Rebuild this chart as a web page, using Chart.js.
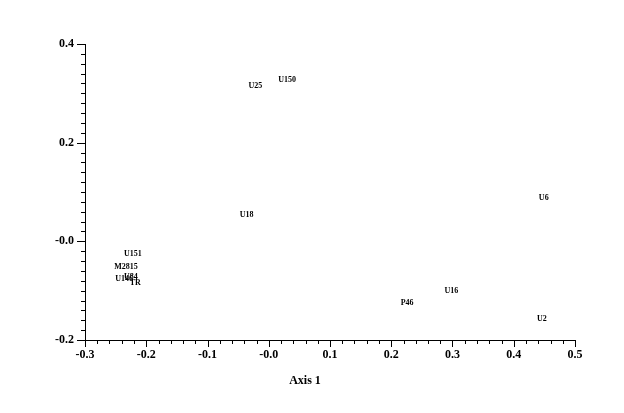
<!DOCTYPE html>
<html>
<head>
<meta charset="utf-8">
<script src="https://cdn.jsdelivr.net/npm/chart.js@4"></script>
<style>
html,body{margin:0;padding:0;background:#fff;}
#wrap{width:624px;height:413px;}
</style>
</head>
<body>
<div id="wrap"><canvas id="c" width="624" height="413"></canvas></div>
<script>
const pointLabels = ['U150','U25','U18','U6','U16','P46','U2','U151','M2815','U146','U84','TR'];
const xValues = [0.030,-0.022,-0.036,0.449,0.298,0.226,0.446,-0.222,-0.233,-0.236,-0.225,-0.218];
const yValues = [0.328,0.314,0.053,0.087,-0.101,-0.124,-0.158,-0.026,-0.051,-0.077,-0.073,-0.085];
const xTickValues = [-0.3,-0.2,-0.1,0.0,0.1,0.2,0.3,0.4,0.5];
const xTickLabels = ['-0.3','-0.2','-0.1','-0.0','0.1','0.2','0.3','0.4','0.5'];
const yTickValues = [-0.2,0.0,0.2,0.4];
const yTickLabels = ['-0.2','-0.0','0.2','0.4'];
const xAxisTitle = 'Axis 1';

const FONT = '"Liberation Serif","Times New Roman",serif';

function labelFor(values, labels, v){
  let best = 0, d = Infinity;
  values.forEach((t,i)=>{ const dd=Math.abs(t-v); if(dd<d){d=dd;best=i;} });
  return d < 1e-6 ? labels[best] : '';
}

const decor = {
  id:'decor',
  afterDraw(chart){
    const ctx = chart.ctx;
    const xs = chart.scales.x, ys = chart.scales.y;
    ctx.save();
    ctx.strokeStyle = '#000';
    ctx.lineWidth = 1;
    // minor ticks
    ctx.beginPath();
    for(let i=0;i<=40;i++){
      const v = -0.3 + i*0.02;
      const px = Math.round(xs.getPixelForValue(v))+0.5;
      const len = (i%5===0)?7:4;
      ctx.moveTo(px, xs.top); ctx.lineTo(px, xs.top+len);
    }
    for(let i=0;i<=30;i++){
      const v = -0.2 + i*0.02;
      const py = Math.round(ys.getPixelForValue(v))+0.5;
      const len = (i%10===0)?8:4;
      ctx.moveTo(ys.right, py); ctx.lineTo(ys.right-len, py);
    }
    ctx.stroke();
    // point labels
    ctx.fillStyle = '#000';
    ctx.font = 'bold 8px ' + FONT;
    ctx.textAlign = 'center';
    ctx.textBaseline = 'middle';
    const meta = chart.getDatasetMeta(0);
    meta.data.forEach((pt,i)=>{
      ctx.fillText(pointLabels[i], pt.x, pt.y);
    });
    // axis title
    ctx.font = 'bold 12px ' + FONT;
    ctx.fillText(xAxisTitle, (xs.left+xs.right)/2 - 25, 381);
    ctx.restore();
  }
};

new Chart(document.getElementById('c'), {
  type:'scatter',
  data:{
    datasets:[{
      data: xValues.map((x,i)=>({x:x, y:yValues[i]})),
      pointRadius:0,
      pointHoverRadius:0,
      showLine:false
    }]
  },
  options:{
    responsive:false,
    animation:false,
    events:[],
    layout:{padding:{left:0,right:49,top:44,bottom:0}},
    plugins:{legend:{display:false},tooltip:{enabled:false}},
    scales:{
      x:{
        type:'linear', min:-0.3, max:0.5,
        afterBuildTicks(s){ s.ticks = xTickValues.map(v=>({value:v})); },
        afterFit(s){ s.height = 73; },
        grid:{display:false, drawTicks:false},
        border:{display:true,color:'#000',width:1},
        ticks:{
          padding:8, color:'#000',
          font:{family:FONT, size:12, weight:'bold'},
          maxRotation:0, autoSkip:false,
          callback:(v)=>labelFor(xTickValues,xTickLabels,v)
        }
      },
      y:{
        type:'linear', min:-0.2, max:0.4,
        afterBuildTicks(s){ s.ticks = yTickValues.map(v=>({value:v})); },
        afterFit(s){ s.width = 85; },
        grid:{display:false, drawTicks:false},
        border:{display:true,color:'#000',width:1},
        ticks:{
          padding:11, color:'#000',
          font:{family:FONT, size:12, weight:'bold'},
          autoSkip:false,
          callback:(v)=>labelFor(yTickValues,yTickLabels,v)
        }
      }
    }
  },
  plugins:[decor]
});
</script>
</body>
</html>
